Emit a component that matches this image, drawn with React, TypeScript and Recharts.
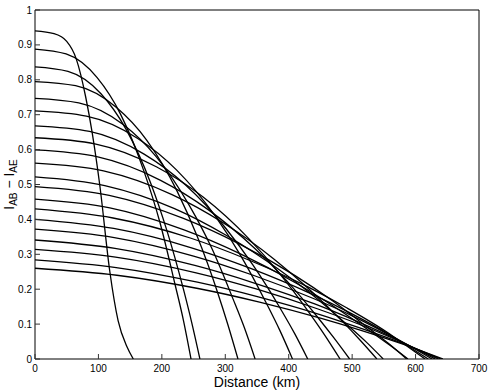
import { LineChart, Line, XAxis, YAxis } from 'recharts';

// distance (km) and I_AB - I_AE, one row per curve
const curveDistances = [
  [0, 30, 50, 65, 80, 90, 102, 118, 131, 145, 155],
  [0, 49, 98, 135, 172, 197, 221, 234, 246],
  [0, 52, 104, 143, 182, 208, 234, 247, 260],
  [0, 64, 128, 176, 224, 256, 288, 304, 320],
  [0, 69, 139, 191, 243, 278, 312, 330, 347],
  [0, 81, 162, 223, 284, 325, 365, 386, 406],
  [0, 86, 172, 237, 301, 344, 387, 409, 430],
  [0, 96, 192, 265, 337, 385, 433, 457, 481],
  [0, 99, 198, 273, 347, 397, 446, 471, 496],
  [0, 108, 216, 296, 377, 431, 485, 512, 539],
  [0, 110, 220, 302, 384, 439, 494, 522, 549],
  [0, 117, 234, 322, 410, 469, 527, 557, 586],
  [0, 118, 235, 323, 412, 470, 529, 559, 588],
  [0, 123, 246, 338, 431, 492, 554, 584, 615],
  [0, 124, 248, 341, 434, 496, 558, 589, 620],
  [0, 125, 250, 344, 438, 501, 563, 595, 626],
  [0, 126, 252, 347, 442, 505, 568, 599, 631],
  [0, 127, 254, 350, 445, 509, 572, 604, 636],
  [0, 128, 256, 352, 448, 512, 576, 608, 640],
  [0, 129, 257, 354, 450, 514, 579, 611, 643],
];

const curveValues = [
  [0.94, 0.932, 0.91, 0.86, 0.75, 0.65, 0.5, 0.25, 0.11, 0.035, 0],
  [0.888, 0.874, 0.806, 0.701, 0.537, 0.391, 0.212, 0.111, 0],
  [0.837, 0.824, 0.76, 0.66, 0.506, 0.368, 0.2, 0.105, 0],
  [0.795, 0.783, 0.721, 0.627, 0.481, 0.35, 0.19, 0.099, 0],
  [0.747, 0.734, 0.672, 0.58, 0.441, 0.32, 0.173, 0.09, 0],
  [0.711, 0.696, 0.632, 0.542, 0.41, 0.294, 0.159, 0.082, 0],
  [0.668, 0.652, 0.587, 0.499, 0.374, 0.268, 0.144, 0.074, 0],
  [0.634, 0.616, 0.55, 0.464, 0.345, 0.246, 0.131, 0.068, 0],
  [0.599, 0.579, 0.512, 0.428, 0.316, 0.224, 0.119, 0.061, 0],
  [0.561, 0.539, 0.471, 0.391, 0.286, 0.202, 0.107, 0.055, 0],
  [0.522, 0.497, 0.431, 0.354, 0.257, 0.181, 0.095, 0.049, 0],
  [0.494, 0.469, 0.403, 0.33, 0.239, 0.167, 0.087, 0.045, 0],
  [0.458, 0.433, 0.37, 0.302, 0.217, 0.152, 0.079, 0.04, 0],
  [0.43, 0.404, 0.346, 0.283, 0.206, 0.146, 0.078, 0.04, 0],
  [0.4, 0.374, 0.318, 0.259, 0.188, 0.133, 0.071, 0.036, 0],
  [0.372, 0.348, 0.295, 0.24, 0.174, 0.123, 0.065, 0.033, 0],
  [0.341, 0.317, 0.268, 0.217, 0.157, 0.11, 0.058, 0.03, 0],
  [0.314, 0.292, 0.247, 0.2, 0.144, 0.101, 0.053, 0.027, 0],
  [0.284, 0.262, 0.22, 0.178, 0.128, 0.089, 0.047, 0.024, 0],
  [0.26, 0.24, 0.202, 0.163, 0.117, 0.082, 0.043, 0.022, 0],
];

const xTicks = [0, 100, 200, 300, 400, 500, 600, 700];
const yTicks = [0, 0.1, 0.2, 0.3, 0.4, 0.5, 0.6, 0.7, 0.8, 0.9, 1];

const FONT = '"Liberation Sans", Arial, Helvetica, sans-serif';
const TICK_LEN = 5;
const TICK_COLOR = '#333';

const curves = curveDistances.map((ds, i) =>
  ds.map((d, j) => ({ d, v: curveValues[i][j] }))
);

function BottomTick({ x, y, payload }: any) {
  return (
    <g>
      <line x1={x} x2={x} y1={y} y2={y - TICK_LEN} stroke={TICK_COLOR} />
      <text x={x} y={y + 13} textAnchor="middle" fontSize={10} fontFamily={FONT} fill="#000">
        {payload.value}
      </text>
    </g>
  );
}

function TopTick({ x, y }: any) {
  return <line x1={x} x2={x} y1={y} y2={y + TICK_LEN} stroke={TICK_COLOR} />;
}

function LeftTick({ x, y, payload }: any) {
  return (
    <g>
      <line x1={x} x2={x + TICK_LEN} y1={y} y2={y} stroke={TICK_COLOR} />
      <text x={x - 3} y={y + 3.5} textAnchor="end" fontSize={10} fontFamily={FONT} fill="#000">
        {payload.value}
      </text>
    </g>
  );
}

function RightTick({ x, y }: any) {
  return <line x1={x} x2={x - TICK_LEN} y1={y} y2={y} stroke={TICK_COLOR} />;
}

function YLabel({ viewBox }: any) {
  const cx = 13.5;
  const cy = viewBox.y + viewBox.height / 2;
  return (
    <text
      x={cx}
      y={cy}
      transform={`rotate(-90, ${cx}, ${cy})`}
      textAnchor="middle"
      fontSize={14}
      fontFamily={FONT}
      fill="#000"
    >
      I<tspan dy={3} fontSize={10}>AB</tspan>
      <tspan dy={-3}> − I</tspan>
      <tspan dy={3} fontSize={10}>AE</tspan>
    </text>
  );
}

export default function App() {
  return (
    <div style={{ position: 'absolute', left: 0, top: 0, background: '#fff' }}>
      <LineChart width={491} height={390} margin={{ top: 9, right: 11, bottom: 0, left: 5 }}>
        <XAxis
          dataKey="d"
          type="number"
          domain={[0, 700]}
          ticks={xTicks}
          interval={0}
          allowDataOverflow
          height={31}
          tickSize={0}
          tickMargin={0}
          tickLine={false}
          axisLine={{ stroke: '#000' }}
          tick={<BottomTick />}
          label={{
            value: 'Distance (km)',
            position: 'insideBottom',
            offset: 3,
            fontSize: 14,
            fontFamily: FONT,
            fill: '#000',
          }}
        />
        <XAxis
          xAxisId="top"
          orientation="top"
          dataKey="d"
          type="number"
          domain={[0, 700]}
          ticks={xTicks}
          interval={0}
          height={1}
          tickSize={0}
          tickMargin={0}
          tickLine={false}
          axisLine={{ stroke: '#000' }}
          tick={<TopTick />}
        />
        <YAxis
          type="number"
          domain={[0, 1]}
          ticks={yTicks}
          interval={0}
          allowDataOverflow
          width={30}
          tickSize={0}
          tickMargin={0}
          tickLine={false}
          axisLine={{ stroke: '#000' }}
          tick={<LeftTick />}
          label={<YLabel />}
        />
        <YAxis
          yAxisId="right"
          orientation="right"
          type="number"
          domain={[0, 1]}
          ticks={yTicks}
          interval={0}
          width={1}
          tickSize={0}
          tickMargin={0}
          tickLine={false}
          axisLine={{ stroke: '#000' }}
          tick={<RightTick />}
        />
        {curves.map((data, i) => (
          <Line
            key={i}
            data={data}
            dataKey="v"
            type="monotone"
            stroke="#000"
            strokeWidth={1.3}
            dot={false}
            activeDot={false}
            isAnimationActive={false}
          />
        ))}
      </LineChart>
    </div>
  );
}
